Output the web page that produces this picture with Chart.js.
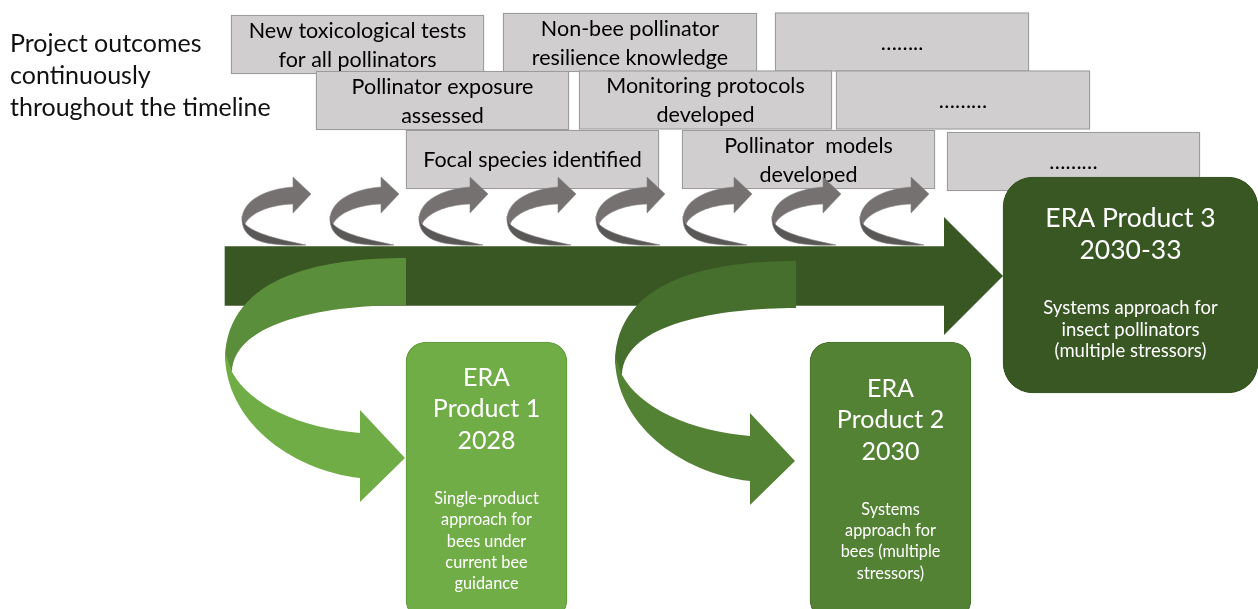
<!DOCTYPE html>
<html>
<head>
<meta charset="utf-8">
<script src="https://cdn.jsdelivr.net/npm/chart.js@4.4.1/dist/chart.umd.min.js"></script>
<style>
  html, body { margin: 0; padding: 0; background: #fff; }
  #wrap { width: 1258px; height: 609px; position: relative; }
</style>
</head>
<body>
<div id="wrap"><canvas id="roadmap"></canvas></div>
<script>
// project outcomes (grey boxes): start / end along the timeline, lane = row
var outcomeLabels = [
  'New toxicological tests\nfor all pollinators',
  'Non-bee pollinator\nresilience knowledge',
  '……..',
  'Pollinator exposure\nassessed',
  'Monitoring protocols\ndeveloped',
  '………',
  'Focal species identified',
  'Pollinator  models\ndeveloped',
  '………'
];
var outcomeStart = [231, 503, 775, 316, 579, 836, 406, 682, 947];
var outcomeEnd   = [484, 757, 1029, 569, 832, 1090, 659, 935, 1200];
var outcomeLane  = [44.5, 42.5, 42, 100.5, 100, 100, 159.5, 159.5, 161.5];

// main timeline
var timelineSpan = [225, 945];
var timelineLane = 276;

// ERA products
var eraTitles = ['ERA\nProduct 1\n2028', 'ERA\nProduct 2\n2030', 'ERA Product 3\n2030-33'];
var eraNotes = [
  'Single-product\napproach for\nbees under\ncurrent bee\nguidance',
  'Systems\napproach for\nbees (multiple\nstressors)',
  'Systems approach for\ninsect pollinators\n(multiple stressors)'
];
var eraStart = [406, 810, 1003];
var eraEnd   = [567, 971, 1258];
var eraLane  = [481, 481, 285];

// small turning arrows along the timeline (tip of each arrow)
var stepTips = [311, 399, 488, 576, 665, 752, 841, 929];
var stepLane = 194;

// big curved arrows down to product 1 and 2 (tip of each arrow)
var curveTips = [405, 795];
var curveLane = [458, 461];

var introLines = ['Project outcomes', 'continuously', 'throughout the timeline'];

// styles
var eraFill = ['#70ad47', '#548235', '#385723'];
var eraBorder = ['#619d3c', '#48732d', '#385723'];
var eraBoxHeight = [278, 278, 216];
var eraRadius = [20, 20, 30];
var eraTitleFont = [25, 25, 26.5];
var eraNoteFont = [16.3, 16.3, 18.5];
var curveColors = [['#5a8e3a', '#70ad47'], ['#466e2c', '#548235']];
var FONT = 'Lato, "Open Sans", sans-serif';

function spans(start, end, lane) {
  return start.map(function (s, i) { return { x: [s, end[i]], y: lane[i] }; });
}

var datasets = [];
eraStart.forEach(function (s, i) {
  datasets.push({
    label: eraTitles[i].replace(/\n/g, ' '),
    indexAxis: 'y',
    grouped: false,
    data: [{ x: [s, eraEnd[i]], y: eraLane[i] }],
    backgroundColor: eraFill[i],
    borderColor: eraBorder[i],
    borderWidth: 1.2,
    borderSkipped: false,
    borderRadius: eraRadius[i],
    barThickness: eraBoxHeight[i],
    order: 1
  });
});
var BAND = datasets.length;
datasets.push({
  label: 'Timeline',
  indexAxis: 'y',
  grouped: false,
  data: [{ x: timelineSpan, y: timelineLane }],
  backgroundColor: '#385723',
  borderWidth: 0,
  barThickness: 59,
  order: 2
});
var OUTCOMES = datasets.length;
datasets.push({
  label: 'Project outcomes',
  indexAxis: 'y',
  grouped: false,
  data: spans(outcomeStart, outcomeEnd, outcomeLane),
  backgroundColor: '#d0cece',
  borderColor: '#9b9b9b',
  borderWidth: 1.3,
  borderSkipped: false,
  barThickness: 59,
  order: 3
});
var STEPS = datasets.length;
datasets.push({
  type: 'scatter',
  label: 'steps',
  data: stepTips.map(function (t) { return { x: t, y: stepLane }; }),
  pointRadius: 0,
  order: 0
});
var CURVES = datasets.length;
datasets.push({
  type: 'scatter',
  label: 'curves',
  data: curveTips.map(function (t, i) { return { x: t, y: curveLane[i] }; }),
  pointRadius: 0,
  order: 0
});

function path(ctx, ox, oy, pts) {
  ctx.beginPath();
  pts.forEach(function (p) {
    if (p[0] === 'M') ctx.moveTo(ox + p[1], oy + p[2]);
    else if (p[0] === 'L') ctx.lineTo(ox + p[1], oy + p[2]);
    else ctx.bezierCurveTo(ox + p[1], oy + p[2], ox + p[3], oy + p[4], ox + p[5], oy + p[6]);
  });
  ctx.closePath();
}

function drawStepArrow(ctx, tx, ty) {
  var ox = tx - 69, oy = ty;
  ctx.fillStyle = '#767171';
  ctx.strokeStyle = '#8a8686';
  ctx.lineWidth = 0.6;
  path(ctx, ox, oy, [['M', 51, -7], ['C', 24, -5, 1, 6, 0, 25], ['L', 3, 30],
    ['C', 8, 20, 25, 11, 51, 10], ['L', 51, 19], ['L', 69, 0], ['L', 51, -17]]);
  ctx.fill(); ctx.stroke();
  ctx.fillStyle = '#5a5757';
  path(ctx, ox, oy, [['M', 0, 22], ['C', -2, 50, 30, 52, 64, 51], ['C', 40, 46, 12, 40, 3, 30]]);
  ctx.fill(); ctx.stroke();
}

function drawCurveArrow(ctx, tx, ty, colors) {
  ctx.fillStyle = colors[0];
  path(ctx, tx, ty, [['M', 1, -200], ['C', -75, -200, -179, -186, -180, -98], ['L', -173, -86],
    ['C', -171, -138, -75, -153, 1, -153]]);
  ctx.fill();
  ctx.fillStyle = colors[1];
  path(ctx, tx, ty, [['M', -180, -106], ['C', -181, -38, -115, 12, -45, 20], ['L', -45, 44], ['L', 0, 0],
    ['L', -45, -48], ['L', -45, -25], ['C', -105, -30, -155, -53, -173, -86]]);
  ctx.fill();
}

function drawLines(ctx, lines, cx, firstY, lh) {
  lines.forEach(function (l, i) { ctx.fillText(l, cx, firstY + i * lh); });
}

var roadmapDrawing = {
  id: 'roadmapDrawing',
  afterDatasetsDraw: function (chart) {
    var ctx = chart.ctx;
    var xs = chart.scales.x, ys = chart.scales.y;
    ctx.save();

    // arrowhead of the timeline
    var band = chart.getDatasetMeta(BAND).data[0];
    ctx.fillStyle = '#385723';
    ctx.beginPath();
    ctx.moveTo(band.x - 1, band.y - band.height);
    ctx.lineTo(band.x + band.height - 1, band.y);
    ctx.lineTo(band.x - 1, band.y + band.height);
    ctx.closePath();
    ctx.fill();

    // curved arrows down to products
    chart.getDatasetMeta(CURVES).data.forEach(function (p, i) {
      drawCurveArrow(ctx, p.x, p.y, curveColors[i]);
    });

    // outcome labels
    ctx.fillStyle = '#000';
    ctx.font = '21.5px ' + FONT;
    ctx.textAlign = 'center';
    ctx.textBaseline = 'middle';
    chart.getDatasetMeta(OUTCOMES).data.forEach(function (el, i) {
      var lines = outcomeLabels[i].split('\n');
      var cx = (el.x + el.base) / 2;
      drawLines(ctx, lines, cx, el.y + 1 - (lines.length - 1) * 14.5, 29);
    });

    // turning arrows
    chart.getDatasetMeta(STEPS).data.forEach(function (p) { drawStepArrow(ctx, p.x, p.y); });

    // product texts
    ctx.fillStyle = '#fff';
    for (var i = 0; i < eraTitles.length; i++) {
      var el = chart.getDatasetMeta(i).data[0];
      var t = eraTitles[i].split('\n'), n = eraNotes[i].split('\n');
      var span = (t.length - 1) * 31.5 + 58 + (n.length - 1) * 21.3;
      var cx = (el.x + el.base) / 2;
      var top = el.y - span / 2;
      ctx.font = eraTitleFont[i] + 'px ' + FONT;
      drawLines(ctx, t, cx, top, 31.5);
      ctx.font = eraNoteFont[i] + 'px ' + FONT;
      drawLines(ctx, n, cx, top + (t.length - 1) * 31.5 + 58, 21.3);
    }

    // intro text
    ctx.fillStyle = '#111';
    ctx.font = '25px ' + FONT;
    ctx.textAlign = 'left';
    ctx.textBaseline = 'alphabetic';
    introLines.forEach(function (l, i) {
      ctx.fillText(l, xs.getPixelForValue(10), ys.getPixelForValue(52 + i * 32));
    });
    ctx.restore();
  }
};

new Chart(document.getElementById('roadmap'), {
  type: 'bar',
  data: { datasets: datasets },
  options: {
    responsive: true,
    maintainAspectRatio: false,
    animation: false,
    events: [],
    layout: { padding: 0 },
    plugins: { legend: { display: false }, tooltip: { enabled: false } },
    scales: {
      x: { type: 'linear', min: 0, max: 1258, offset: false, display: false },
      y: { type: 'linear', min: 0, max: 609, reverse: true, offset: false, display: false }
    }
  },
  plugins: [roadmapDrawing]
});
</script>
</body>
</html>
